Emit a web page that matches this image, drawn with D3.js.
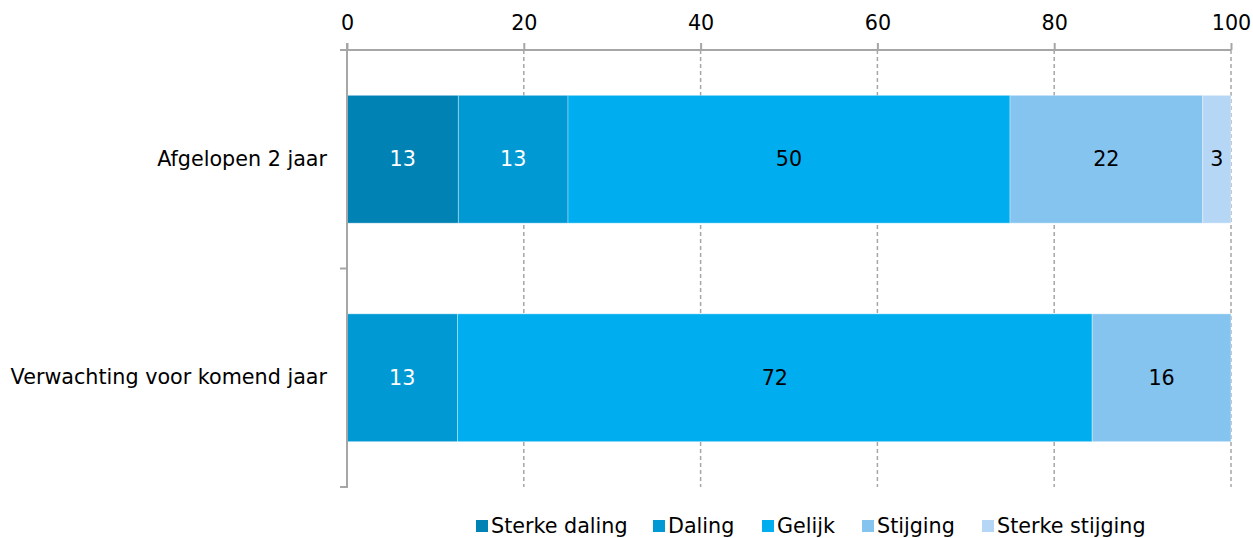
<!DOCTYPE html>
<html>
<head>
<meta charset="utf-8">
<script src="https://cdn.jsdelivr.net/npm/d3@7"></script>
<style>
  body { margin: 0; background: #fff; }
  text { font-family: "DejaVu Sans", Verdana, sans-serif; }
</style>
</head>
<body>
<div id="chart"></div>
<script>
var svgWidth = 1253;
var svgHeight = 538;

// data (percentages per row)
var categories = ["Afgelopen 2 jaar", "Verwachting voor komend jaar"];
var seriesNames = ["Sterke daling", "Daling", "Gelijk", "Stijging", "Sterke stijging"];
var sterkeDaling = [12.6, 0];
var daling = [12.4, 12.5];
var gelijk = [50.0, 71.8];
var stijging = [21.8, 15.7];
var sterkeStijging = [3.2, 0];
var labels = [[13, 13, 50, 22, 3], [null, 13, 72, 16, null]];
var xTicks = [0, 20, 40, 60, 80, 100];

var colors = ["#0082b4", "#0099d4", "#00aeef", "#86c4f0", "#b5d7f5"];
var textColors = ["#fff", "#fff", "#000", "#000", "#000"];
var fontSize = "20.7px";

var margin = { top: 50, right: 22, bottom: 51, left: 347 };
var width = svgWidth - margin.left - margin.right;
var height = svgHeight - margin.top - margin.bottom;

var svg = d3.select("#chart")
  .append("svg")
  .attr("width", svgWidth)
  .attr("height", svgHeight);

var chartGroup = svg.append("g")
  .attr("transform", `translate(${margin.left}, ${margin.top})`);

// build table for stack
var table = categories.map(function(c, i) {
  return {
    cat: c,
    "Sterke daling": sterkeDaling[i],
    "Daling": daling[i],
    "Gelijk": gelijk[i],
    "Stijging": stijging[i],
    "Sterke stijging": sterkeStijging[i]
  };
});

var xScale = d3.scaleLinear().domain([0, 100]).range([0, width]);
var yScale = d3.scaleBand().domain(categories).range([0, height]).paddingInner(0.415).paddingOuter(0.2075);

// gridlines
chartGroup.selectAll(".grid")
  .data(xTicks.slice(1))
  .enter()
  .append("line")
  .attr("x1", d => xScale(d))
  .attr("x2", d => xScale(d))
  .attr("y1", 0)
  .attr("y2", height)
  .attr("stroke", "#a6a6a6")
  .attr("stroke-width", 1.5)
  .attr("stroke-dasharray", "4,3");

// stacked bars
var stack = d3.stack().keys(seriesNames);
var stacked = stack(table);

var layers = chartGroup.selectAll(".layer")
  .data(stacked)
  .enter()
  .append("g")
  .attr("fill", (d, i) => colors[i]);

layers.selectAll("rect")
  .data(d => d)
  .enter()
  .append("rect")
  .filter(d => d[1] - d[0] > 0)
  .attr("x", d => xScale(d[0]))
  .attr("y", d => yScale(d.data.cat))
  .attr("width", d => xScale(d[1]) - xScale(d[0]))
  .attr("height", yScale.bandwidth())
  .attr("stroke", "rgba(255,255,255,0.35)")
  .attr("stroke-width", 1);

// value labels
stacked.forEach(function(layer, si) {
  layer.forEach(function(d, ci) {
    var lab = labels[ci][si];
    if (lab == null) return;
    chartGroup.append("text")
      .attr("x", xScale((d[0] + d[1]) / 2))
      .attr("y", yScale(d.data.cat) + yScale.bandwidth() / 2)
      .attr("dy", "0.35em")
      .attr("text-anchor", "middle")
      .attr("font-size", fontSize)
      .attr("fill", textColors[si])
      .text(lab);
  });
});

// top axis
var topAxis = d3.axisTop(xScale).tickValues(xTicks).tickSize(7).tickPadding(13);
var gx = chartGroup.append("g").call(topAxis);
gx.select(".domain").attr("stroke", "#a6a6a6").attr("stroke-width", 2).attr("d", `M-7,0H${width}`);
gx.selectAll(".tick line").attr("stroke", "#a6a6a6").attr("stroke-width", 2);
gx.selectAll(".tick text").attr("font-size", fontSize).attr("fill", "#000")
  .style("font-family", "DejaVu Sans, Verdana, sans-serif");

// left axis
var leftAxis = d3.axisLeft(yScale).tickSize(0).tickPadding(20);
var gy = chartGroup.append("g").call(leftAxis);
gy.select(".domain").attr("stroke", "#a6a6a6").attr("stroke-width", 2).attr("d", `M0,-7V${height}H-7`);
gy.selectAll(".tick text").attr("font-size", fontSize).attr("fill", "#000")
  .style("font-family", "DejaVu Sans, Verdana, sans-serif");
// category separator tick
chartGroup.append("line")
  .attr("x1", -7).attr("x2", 0)
  .attr("y1", height / 2).attr("y2", height / 2)
  .attr("stroke", "#a6a6a6").attr("stroke-width", 2);

// legend
var legendX = [476, 653, 762, 862, 982];
var legend = svg.append("g").attr("transform", "translate(0, 526)");
seriesNames.forEach(function(name, i) {
  legend.append("rect")
    .attr("x", legendX[i])
    .attr("y", -6)
    .attr("width", 12)
    .attr("height", 12)
    .attr("fill", colors[i]);
  legend.append("text")
    .attr("x", legendX[i] + 15)
    .attr("y", 0)
    .attr("dy", "0.35em")
    .attr("font-size", fontSize)
    .text(name);
});
</script>
</body>
</html>
